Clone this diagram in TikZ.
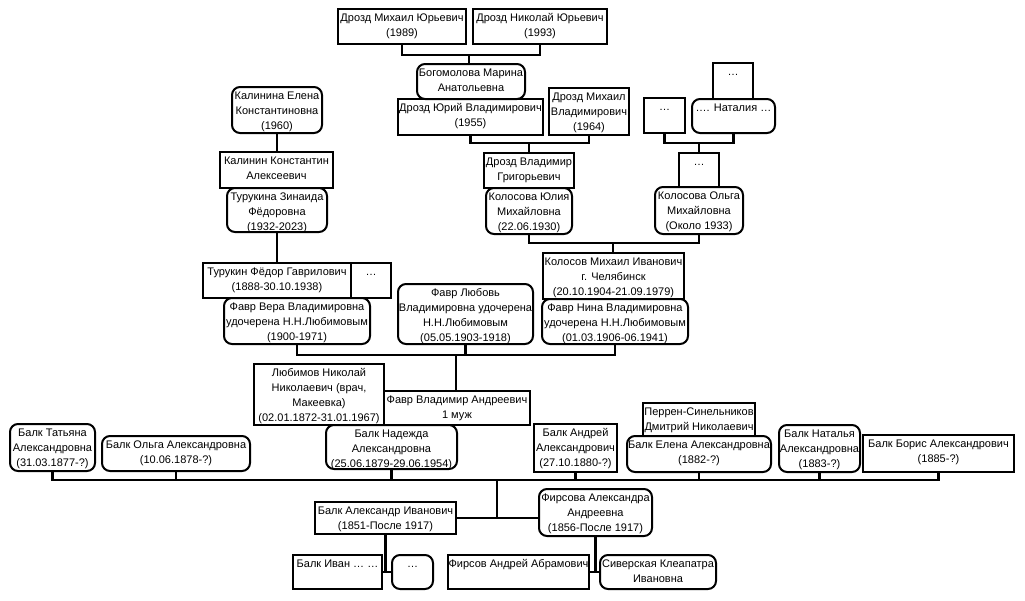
\documentclass[tikz,border=0pt]{standalone}
\usepackage{fontspec}
\setmainfont{Liberation Sans}
\newcommand\mkperson[7]{%
  \node[#1, minimum width={(#5-#3)*1pt}, minimum height={(#6-#4)*1pt}] (#2) at ({(#3+#5)/2},{(#4+#6)/2})
  {\parbox[c][\dimexpr#6pt-#4pt\relax][t]{\dimexpr#5pt-#3pt\relax}{\centering\rule{0pt}{12pt}#7\par}};}
\tikzset{
  rbox/.style={draw, line width=2pt, inner sep=0pt, outer sep=0pt, font=\fontsize{11}{15}\selectfont},
  obox/.style={rbox, rounded corners=8pt},
  conn/.style={draw, line width=2.2pt}
}
\begin{document}
\begin{tikzpicture}[x=1pt,y=-1pt]
\useasboundingbox[fill=white] (0,0) rectangle (1025,600);
% top generation
\mkperson{rbox}{dmy}{338}{9}{466}{44}{Дрозд Михаил Юрьевич\\(1989)}
\mkperson{rbox}{dny}{473}{9}{607}{44}{Дрозд Николай Юрьевич\\(1993)}
\mkperson{obox}{bog}{417}{64}{525}{99}{Богомолова Марина\\Анатольевна}
\mkperson{rbox}{dyv}{398}{99}{543}{135}{Дрозд Юрий Владимирович\\(1955)}
\mkperson{rbox}{dmv}{549}{88}{629}{135}{Дрозд Михаил\\Владимирович\\(1964)}
\mkperson{obox}{kal}{232}{87}{322}{133}{Калинина Елена\\Константиновна\\(1960)}
\mkperson{rbox}{kka}{220}{152}{333}{188}{Калинин Константин\\Алексеевич}
\mkperson{obox}{tzf}{227}{188}{327}{232}{Турукина Зинаида\\Фёдоровна\\(1932-2023)}
\mkperson{rbox}{dtop}{713}{63}{753}{99}{…}
\mkperson{obox}{nat}{692}{99}{775}{133}{…. Наталия …}
\mkperson{rbox}{dleft}{644}{98}{685}{133}{…}
\mkperson{rbox}{dmid}{679}{153}{719}{187}{…}
\mkperson{obox}{kom}{655}{187}{743}{234}{Колосова Ольга\\Михайловна\\(Около 1933)}
\mkperson{rbox}{dvg}{484}{153}{574}{188}{Дрозд Владимир\\Григорьевич}
\mkperson{obox}{kyu}{486}{188}{572}{234}{Колосова Юлия\\Михайловна\\(22.06.1930)}
% middle
\mkperson{rbox}{tfg}{203}{263}{351}{298}{Турукин Фёдор Гаврилович\\(1888-30.10.1938)}
\mkperson{rbox}{dtur}{351}{263}{391}{298}{…}
\mkperson{obox}{fvv}{224}{298}{370}{344}{Фавр Вера Владимировна\\удочерена Н.Н.Любимовым\\(1900-1971)}
\mkperson{obox}{flv}{398}{284}{533}{344}{Фавр Любовь\\Владимировна удочерена\\Н.Н.Любимовым\\(05.05.1903-1918)}
\mkperson{rbox}{kmi}{543}{253}{684}{299}{Колосов Михаил Иванович\\г. Челябинск\\(20.10.1904-21.09.1979)}
\mkperson{obox}{fnv}{542}{299}{688}{344}{Фавр Нина Владимировна\\удочерена Н.Н.Любимовым\\(01.03.1906-06.1941)}
\mkperson{rbox}{lnn}{254}{364}{384}{425}{Любимов Николай\\Николаевич (врач,\\Макеевка)\\(02.01.1872-31.01.1967)}
\mkperson{rbox}{fva}{384}{391}{530}{425}{Фавр Владимир Андреевич\\1 муж}
\mkperson{obox}{bna}{326}{425}{457}{469}{Балк Надежда\\Александровна\\(25.06.1879-29.06.1954)}
% Balk siblings
\mkperson{obox}{bta}{10}{424}{95}{471}{Балк Татьяна\\Александровна\\(31.03.1877-?)}
\mkperson{obox}{boa}{102}{436}{250}{471}{Балк Ольга Александровна\\(10.06.1878-?)}
\mkperson{rbox}{baa}{534}{424}{617}{472}{Балк Андрей\\Александрович\\(27.10.1880-?)}
\mkperson{rbox}{psd}{643}{403}{755}{436}{Перрен-Синельников\\Дмитрий Николаевич}
\mkperson{obox}{bea}{627}{436}{771}{472}{Балк Елена Александровна\\(1882-?)}
\mkperson{obox}{bnat}{779}{425}{860}{472}{Балк Наталья\\Александровна\\(1883-?)}
\mkperson{rbox}{bba}{863}{435}{1014}{472}{Балк Борис Александрович\\(1885-?)}
% parents
\mkperson{rbox}{bai}{315}{502}{456}{534}{Балк Александр Иванович\\(1851-После 1917)}
\mkperson{obox}{faa}{539}{489}{652}{536}{Фирсова Александра\\Андреевна\\(1856-После 1917)}
\mkperson{rbox}{bia}{293}{555}{382}{589}{Балк Иван … …}
\mkperson{obox}{dbi}{392}{555}{433}{589}{…}
\mkperson{rbox}{fab}{448}{555}{589}{589}{Фирсов Андрей Абрамович}
\mkperson{obox}{ski}{600}{555}{716}{589}{Сиверская Клеапатра\\Ивановна}
% junctions
\coordinate (j1) at (469,55);
\coordinate (j2) at (529,143);
\coordinate (j3) at (699,143);
\coordinate (j4) at (613,243);
\coordinate (j5) at (456,355);
\coordinate (j6) at (497,480);
\coordinate (j7) at (385.5,572);
\coordinate (j8) at (595.5,572);
% connectors
\path[conn] (dmy.south) |- (j1) -| (dny.south);
\path[conn] (j1) -- (j1 |- bog.north);
\path[conn] (dyv.south) |- (j2) -| (dmv.south);
\path[conn] (j2) -- (j2 |- dvg.north);
\path[conn] (kal.south) -- (kal.south |- kka.north);
\path[conn] (tzf.south) -- (tzf.south |- tfg.north);
\path[conn] (dleft.south) |- (j3) -| (nat.south);
\path[conn] (j3) -- (j3 |- dmid.north);
\path[conn] (kyu.south) |- (j4) -| (kom.south);
\path[conn] (j4) -- (j4 |- kmi.north);
\path[conn] (fvv.south) |- (j5) -| (fnv.south);
\path[conn] (flv.south) -- (flv.south |- j5);
\path[conn] (j5) -- (j5 |- fva.north);
\path[conn] (bta.south) |- (j6) -| (bba.south);
\path[conn] (boa.south) -- (boa.south |- j6);
\path[conn] (bna.south) -- (bna.south |- j6);
\path[conn] (baa.south) -- (baa.south |- j6);
\path[conn] (bea.south) -- (bea.south |- j6);
\path[conn] (bnat.south) -- (bnat.south |- j6);
\path[conn] (bai.east) -- (bai.east -| faa.west);
\path[conn] (j6) -- (j6 |- bai.east);
\path[conn] (bai.south) -- (j7);
\path[conn] (bia.east) -- (dbi.west);
\path[conn] (faa.south) -- (j8);
\path[conn] (fab.east) -- (ski.west);
\end{tikzpicture}
\end{document}
